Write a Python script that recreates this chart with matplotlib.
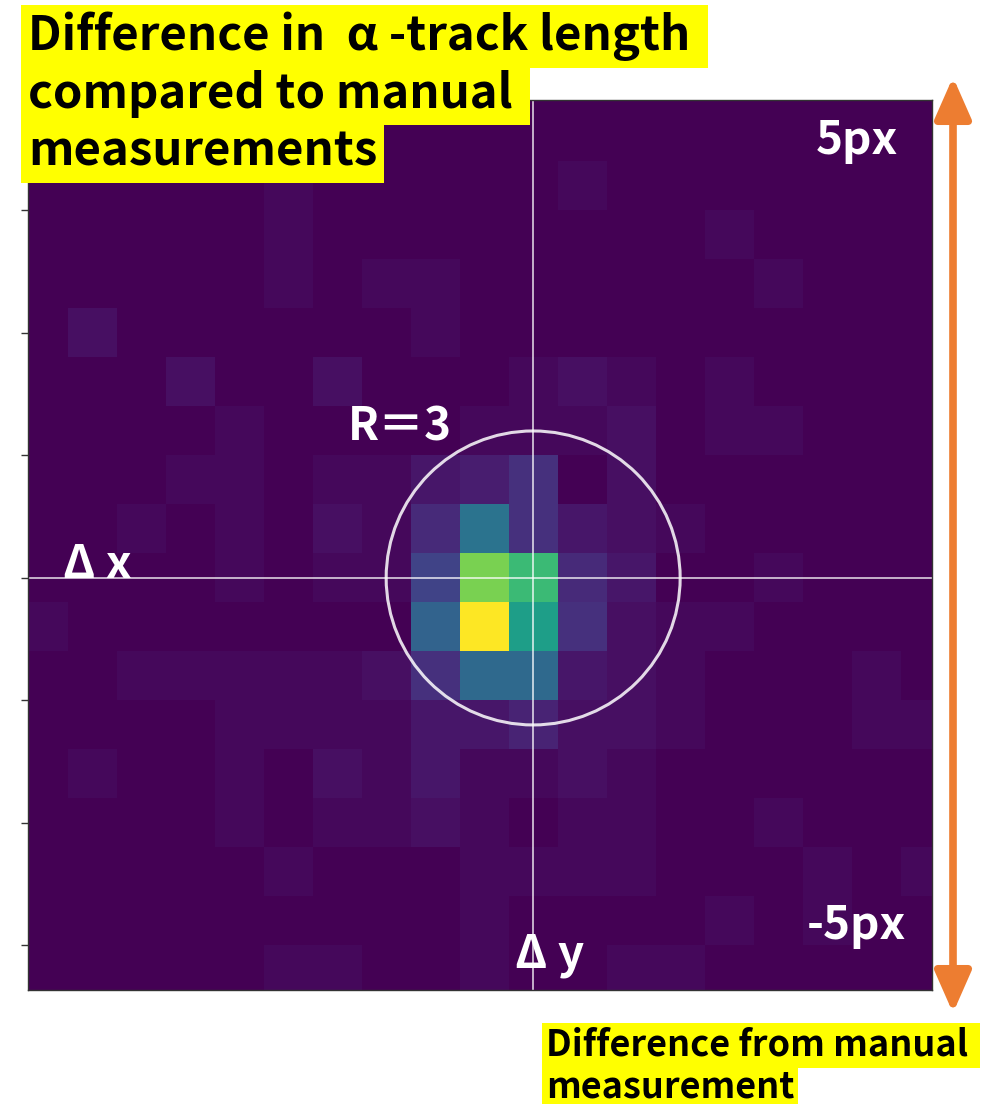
import numpy as np
import matplotlib.pyplot as plt
from matplotlib.patches import Circle, FancyArrowPatch

# 2D histogram of (dx, dy) offsets versus manual measurement, 1 px bins
dx_bins = np.arange(-10, 9)          # columns, left to right
dy_bins = np.arange(10, -9, -1)      # rows, top to bottom
counts = np.array([
    [0, 0, 0, 0, 0, 0, 0, 0, 0, 0, 0, 0, 0, 0, 0, 0, 0, 0, 0],   # dy = 10
    [0, 0, 0, 0, 0, 0, 0, 0, 0, 0, 0, 0, 0, 0, 0, 0, 0, 0, 0],   # dy = 9
    [0, 0, 0, 0, 0, 1, 0, 0, 0, 0, 0, 1, 0, 0, 0, 0, 0, 0, 0],   # dy = 8
    [0, 0, 0, 0, 0, 1, 0, 0, 0, 0, 0, 0, 0, 0, 1, 0, 0, 0, 0],   # dy = 7
    [0, 0, 0, 0, 0, 1, 0, 1, 1, 0, 0, 0, 0, 0, 0, 1, 0, 0, 0],   # dy = 6
    [0, 2, 0, 0, 0, 0, 0, 0, 1, 0, 0, 0, 0, 0, 0, 0, 0, 0, 0],   # dy = 5
    [0, 0, 0, 2, 0, 0, 2, 0, 0, 0, 1, 2, 1, 0, 1, 0, 0, 0, 0],   # dy = 4
    [0, 0, 0, 0, 1, 0, 0, 0, 0, 1, 1, 1, 2, 0, 1, 1, 0, 0, 0],   # dy = 3
    [0, 0, 0, 1, 1, 0, 1, 1, 3, 4, 7, 0, 2, 0, 0, 0, 0, 0, 0],   # dy = 2
    [0, 0, 1, 0, 1, 0, 2, 1, 6, 19, 7, 3, 2, 1, 0, 0, 0, 0, 0],  # dy = 1
    [0, 0, 0, 0, 1, 0, 1, 1, 10, 40, 34, 6, 3, 0, 0, 1, 0, 0, 0],  # dy = 0
    [1, 0, 0, 0, 0, 0, 0, 0, 16, 50, 28, 7, 2, 1, 1, 0, 0, 0, 0],  # dy = -1
    [0, 0, 1, 1, 1, 1, 1, 2, 7, 17, 17, 3, 2, 1, 0, 0, 0, 1, 0],   # dy = -2
    [0, 0, 0, 0, 1, 1, 1, 1, 3, 3, 5, 2, 2, 1, 0, 0, 0, 1, 1],     # dy = -3
    [0, 1, 0, 0, 1, 0, 2, 1, 3, 1, 1, 2, 1, 0, 0, 0, 0, 0, 0],     # dy = -4
    [0, 0, 0, 0, 1, 0, 1, 1, 2, 1, 0, 1, 1, 0, 0, 1, 0, 0, 0],     # dy = -5
    [0, 0, 0, 0, 0, 1, 0, 0, 0, 1, 1, 1, 1, 0, 0, 0, 1, 0, 1],     # dy = -6
    [0, 0, 0, 0, 0, 0, 0, 0, 0, 1, 0, 0, 0, 0, 1, 0, 1, 0, 0],     # dy = -7
    [0, 0, 0, 0, 0, 1, 1, 0, 0, 1, 0, 0, 1, 1, 0, 0, 0, 0, 0],     # dy = -8
])

radius = 3
ytick_pos = [-7.5, -5, -2.5, 0, 2.5, 5, 7.5]

W, H = 989, 1104
CJK = 'Noto Sans CJK JP'
YELLOW = '#FFFF00'
ORANGE = '#ED7D31'


def px(x, y):
    # pixel position measured from the top-left corner -> figure fraction
    return x / W, 1 - y / H


fig = plt.figure(figsize=(W / 100, H / 100), dpi=100)
ax = fig.add_axes([28 / W, 1 - 990 / H, 904 / W, 890 / H])

extent = (dx_bins[0] - 0.5, dx_bins[-1] + 0.5, dy_bins[-1] - 0.5, dy_bins[0] + 0.5)
ax.imshow(counts, cmap='viridis', vmin=0, vmax=counts.max(), extent=extent,
          origin='upper', interpolation='nearest', aspect='auto')
ax.set_xlim(-10.31, 8.14)
ax.set_ylim(-8.41, 9.755)

# crosshair and acceptance circle
ax.axhline(0, color='white', lw=1.3, alpha=0.75)
ax.axvline(0, color='white', lw=1.3, alpha=0.75)
ax.add_patch(Circle((0, 0), radius, fill=False, ec='white', lw=2.2, alpha=0.85))

ax.set_xticks([])
ax.set_yticks(ytick_pos)
ax.set_yticklabels([])
ax.tick_params(axis='y', length=5, width=1, color='#333333')
for s in ax.spines.values():
    s.set_color('#333333')
    s.set_linewidth(1)

# labels on the heatmap
lab = dict(color='white', fontsize=33, fontweight='bold', family=[CJK, 'DejaVu Sans'],
           va='baseline')
fig.text(*px(63, 578), 'Δ x', ha='left', **lab)
fig.text(*px(515, 967), 'Δ y', ha='left', **lab)
fig.text(*px(348, 441), 'R＝3', ha='left', **lab)
fig.text(*px(898, 154), '5px', ha='right', **lab)
fig.text(*px(906, 939), '-5px', ha='right', **lab)

# title, one highlighted box per line
title_lines = ['Difference in  α -track length ', 'compared to manual ', 'measurements']
for i, line in enumerate(title_lines):
    fig.text(*px(28, 50 + 58 * i), line, ha='left', va='baseline',
             fontsize=34, fontweight='bold', family=[CJK, 'DejaVu Sans'],
             bbox=dict(boxstyle='square,pad=0.14', fc=YELLOW, ec='none'))

# scale arrow on the right
arrow = FancyArrowPatch(px(953, 1013), px(953, 77), transform=fig.transFigure,
                        arrowstyle='<|-|>,head_length=25,head_width=11',
                        mutation_scale=1, lw=5.5, color=ORANGE,
                        shrinkA=0, shrinkB=0)
fig.add_artist(arrow)

note_lines = ['Difference from manual ', 'measurement']
for i, line in enumerate(note_lines):
    fig.text(*px(546, 1056 + 42 * i), line, ha='left', va='baseline',
             fontsize=26, fontweight='bold', family=[CJK, 'DejaVu Sans'],
             bbox=dict(boxstyle='square,pad=0.1', fc=YELLOW, ec='none'))

fig.savefig('out.png', dpi=100, facecolor='white')
